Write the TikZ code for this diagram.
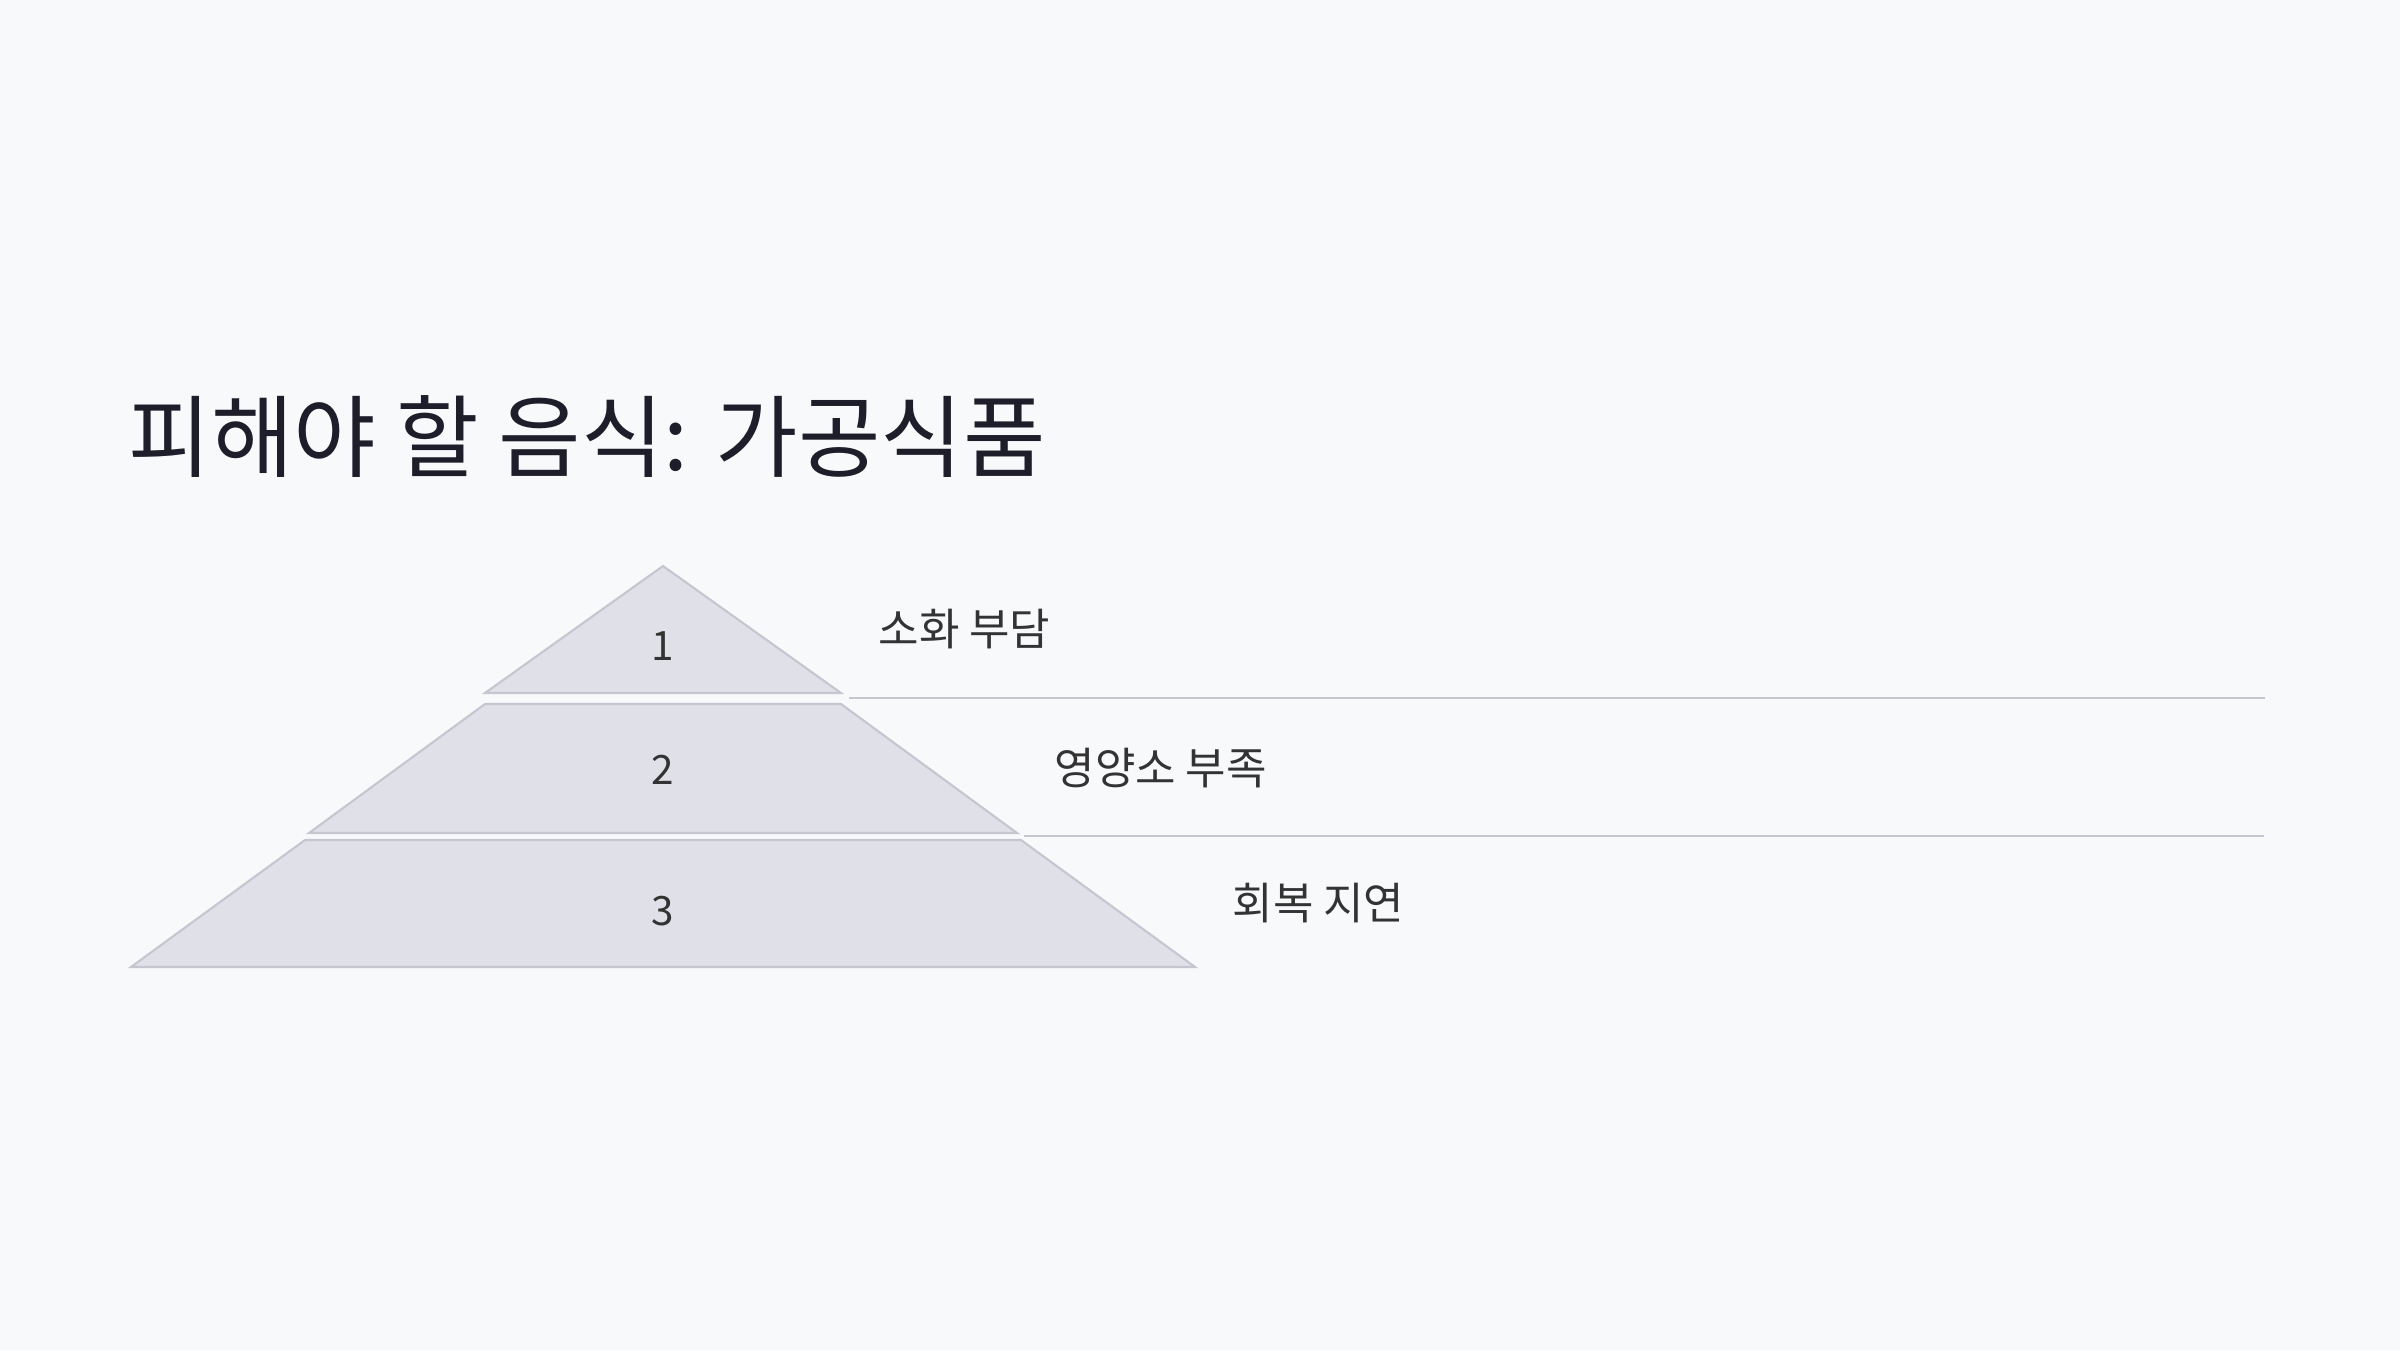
\documentclass[tikz,border=0pt]{standalone}
\usepackage{fontspec}
\setmainfont{Noto Sans CJK KR}
\usetikzlibrary{positioning}
\definecolor{pagebg}{HTML}{F8F9FB}
\definecolor{tierfill}{HTML}{E0E1E8}
\definecolor{tierline}{HTML}{C5C6CF}
\definecolor{titlecol}{HTML}{1E1E2A}
\definecolor{labelcol}{HTML}{333333}

\begin{document}
\begin{tikzpicture}[x=0.01cm,y=-0.01cm,
    tier/.style={fill=tierfill, draw=tierline, line width=0.6pt},
    divider/.style={draw=tierline, line width=0.6pt},
    tiernum/.style={font=\fontsize{11.5}{13}\selectfont, text=labelcol, inner sep=0pt},
    tierlabel/.style={font=\fontsize{12.5}{15}\selectfont, text=labelcol, anchor=west, inner sep=0pt}]
    % Background
    \fill[pagebg] (0,0) rectangle (2400,1350);
    \useasboundingbox (0,0) rectangle (2400,1350);

    % Title
    \node[anchor=base west, inner sep=0pt, text=titlecol, font=\fontsize{25.5}{30}\selectfont] (title) at (128,470) {피해야 할 음식: 가공식품};

    % Draw tiers, numbers and labels
    \foreach \i/\yt/\wt/\yb/\wb/\yn/\txt in {1/566/0/693/178/646/소화 부담, 2/704/178/833/354/770/영양소 부족, 3/840/358/967/532/911/회복 지연} {
      \draw[tier] (663-\wt,\yt) -- (663+\wt,\yt) -- (663+\wb,\yb) -- (663-\wb,\yb) -- cycle;
      \node[tiernum] (num\i) at (663,\yn) {\i};
      \node[tierlabel] (lab\i) at (663+\wb+37,{(\yt+\yb)/2}) {\txt};
    }

    % Draw dividers
    \coordinate (start1) at (849,698);
    \coordinate (end1) at (2265,698);
    \coordinate (start2) at (1024,836);
    \coordinate (end2) at (2264,836);
    \draw[divider] (start1) -- (end1);
    \draw[divider] (start2) -- (end2);

  \end{tikzpicture}
\end{document}
